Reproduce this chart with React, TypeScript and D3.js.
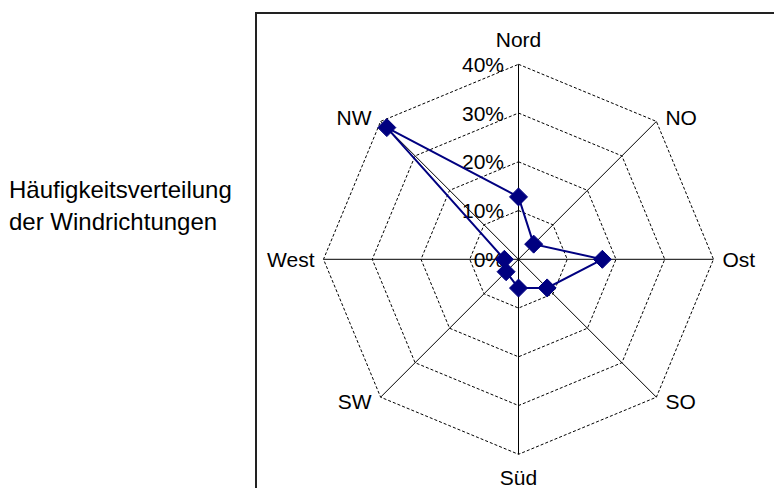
import React from "react";
import * as d3 from "d3";

const directions = ["Nord", "NO", "Ost", "SO", "Süd", "SW", "West", "NW"];
const frequencies = [12.8, 4.4, 17.2, 8.3, 5.9, 3.6, 2.9, 38.2];
const tickValues = [0, 10, 20, 30, 40];
const titleLines = ["Häufigkeitsverteilung", "der Windrichtungen"];

const W = 774;
const H = 488;
const cx = 518.5;
const cy = 259.3;
const R = 195;
const FONT = "'Liberation Sans', Arial, sans-serif";
const NAVY = "#000080";

export default function App() {
  const r = d3.scaleLinear().domain([0, 40]).range([0, R]);
  const angle = d3
    .scalePoint<string>()
    .domain(directions)
    .range([0, 2 * Math.PI * (1 - 1 / directions.length)]);
  const pt = (dir: string, v: number): [number, number] => {
    const a = angle(dir)!;
    return [cx + Math.sin(a) * r(v), cy - Math.cos(a) * r(v)];
  };
  const ringLine = d3.line<[number, number]>().curve(d3.curveLinearClosed);
  const series = directions.map((d, i) => pt(d, frequencies[i]));

  return (
    <svg
      width={W}
      height={H}
      style={{ position: "absolute", left: 0, top: 0, background: "#fff" }}
      fontFamily={FONT}
    >
      <rect x={0} y={0} width={W} height={H} fill="#fff" />
      {/* plot border */}
      <path d={`M256,${H + 5} L256,13 L${W + 5},13`} fill="none" stroke="#222" strokeWidth={2} />

      {/* title */}
      <text fontSize={24} fill="#000">
        {titleLines.map((t, i) => (
          <tspan key={i} x={9} y={198 + i * 32}>
            {t}
          </tspan>
        ))}
      </text>

      {/* rings */}
      {tickValues
        .filter((t) => t > 0)
        .map((t) => (
          <path
            key={t}
            d={ringLine(directions.map((d) => pt(d, t)))!}
            fill="none"
            stroke="#000"
            strokeWidth={1}
            strokeDasharray="3,2"
          />
        ))}

      {/* axes */}
      {directions.map((d) => {
        const [x, y] = pt(d, 40);
        return <line key={d} x1={cx} y1={cy} x2={x} y2={y} stroke="#000" strokeWidth={1} />;
      })}

      {/* tick labels */}
      {tickValues.map((t) => (
        <text
          key={t}
          x={504}
          y={cy - r(t)}
          textAnchor="end"
          dominantBaseline="central"
          fontSize={21}
          fill="#000"
        >
          {`${t}%`}
        </text>
      ))}

      {/* category labels */}
      {directions.map((d) => {
        const a = angle(d)!;
        const [x, y] = pt(d, 40);
        const s = Math.sin(a);
        const c = Math.cos(a);
        let tx = x;
        let ty = y;
        let anchor = "middle";
        if (Math.abs(s) < 0.01) {
          ty = y - Math.sign(c) * (c > 0 ? 25 : 23);
        } else {
          tx = x + Math.sign(s) * 9;
          anchor = s > 0 ? "start" : "end";
          ty = y - c * 5.6;
        }
        return (
          <text
            key={d}
            x={tx}
            y={ty}
            textAnchor={anchor}
            dominantBaseline="central"
            fontSize={21}
            fill="#000"
          >
            {d}
          </text>
        );
      })}

      {/* series */}
      <path d={ringLine(series)!} fill="none" stroke={NAVY} strokeWidth={2} />
      {series.map(([x, y], i) => (
        <path
          key={i}
          d={`M${x},${y - 9} L${x + 9},${y} L${x},${y + 9} L${x - 9},${y} Z`}
          fill={NAVY}
          stroke={NAVY}
          strokeWidth={1}
        />
      ))}
    </svg>
  );
}
